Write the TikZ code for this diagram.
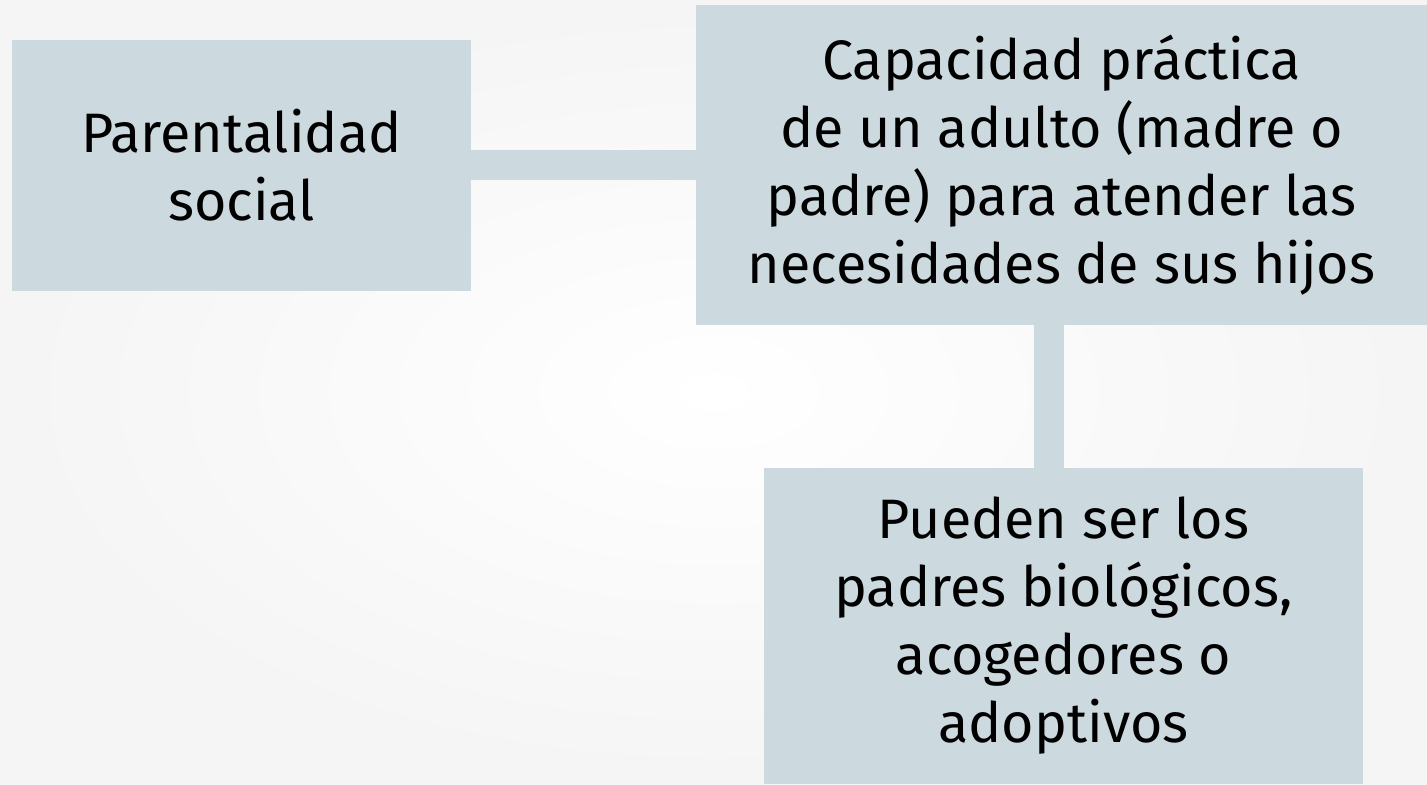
\documentclass[tikz,border=0pt]{standalone}
\usepackage{fontspec}
\setmainfont{Fira Sans}
\definecolor{boxblue}{HTML}{CCD9DF}
\begin{document}
\begin{tikzpicture}[x=.5pt,y=-.5pt,
box/.style={fill=boxblue,inner sep=0pt,align=center,font=\fontsize{27.8}{34}\selectfont},
link/.style={draw=boxblue,line width=15pt}]
\shade[inner color=white,outer color=black!4](0,0)rectangle(1427,784);
\node[box,minimum width=229.5pt,minimum height=125.5pt](par)at(241.5,165){Parentalidad\\social};
\node[box,minimum width=365.5pt,minimum height=160pt](cap)at(1061.5,165){Capacidad práctica\\de un adulto (madre o\\padre) para atender las\\necesidades de sus hijos};
\node[box,minimum width=299.5pt,minimum height=158pt](pue)at(1063.5,626){Pueden ser los\\padres biológicos,\\acogedores o\\adoptivos};
\draw[link](par.east)--(cap.west);
\draw[link]([xshift=-6.5pt]cap.south)--([xshift=-6.5pt]cap.south|-pue.north);
\end{tikzpicture}
\end{document}
